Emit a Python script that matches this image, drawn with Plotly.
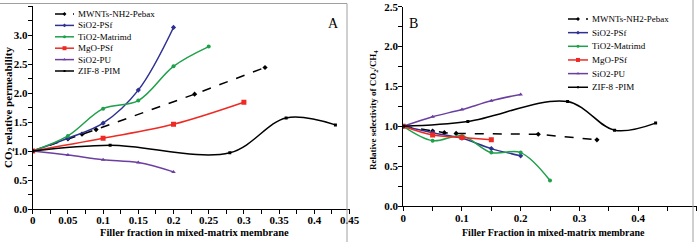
import plotly.graph_objects as go

# ---------------- data ----------------
series_names = ["MWNTs-NH2-Pebax", "SiO2-PSf", "TiO2-Matrimd", "MgO-PSf", "SiO2-PU", "ZIF-8 -PIM"]

mwnt_x = [0, 0.05, 0.07, 0.09, 0.23, 0.33]
mwnt_A = [1.0, 1.21, 1.29, 1.37, 1.98, 2.44]
mwnt_B = [1.0, 0.94, 0.92, 0.91, 0.90, 0.83]

sio2psf_x = [0, 0.05, 0.1, 0.15, 0.2]
sio2psf_A = [1.0, 1.22, 1.48, 2.05, 3.13]
sio2psf_B = [1.0, 0.92, 0.85, 0.72, 0.63]

tio2_x = [0, 0.05, 0.1, 0.15, 0.2, 0.25]
tio2_A = [1.0, 1.26, 1.73, 1.87, 2.46, 2.80]
tio2_B = [1.0, 0.82, 0.88, 0.67, 0.67, 0.32]

mgo_xA = [0, 0.1, 0.2, 0.3]
mgo_A = [1.0, 1.22, 1.46, 1.84]
mgo_xB = [0, 0.05, 0.1, 0.15]
mgo_B = [1.0, 0.89, 0.86, 0.83]

sio2pu_x = [0, 0.05, 0.1, 0.15, 0.2]
sio2pu_A = [1.0, 0.93, 0.85, 0.80, 0.64]
sio2pu_B = [1.0, 1.12, 1.21, 1.32, 1.40]

zif_x = [0, 0.11, 0.28, 0.36, 0.43]
zif_A = [1.0, 1.10, 0.97, 1.57, 1.45]
zif_B = [1.0, 1.06, 1.31, 0.95, 1.04]

xticksA = [0, 0.05, 0.1, 0.15, 0.2, 0.25, 0.3, 0.35, 0.4, 0.45]
xticksA_text = ["0", "0.05", "0.1", "0.15", "0.2", "0.25", "0.3", "0.35", "0.4", "0.45"]
yticksA = [0, 0.5, 1.0, 1.5, 2.0, 2.5, 3.0, 3.5]
yticksA_text = ["0.0", "0.5", "1.0", "1.5", "2.0", "2.5", "3.0", "3.5"]
xticksB = [0, 0.1, 0.2, 0.3, 0.4, 0.5]
xticksB_text = ["0", "0.1", "0.2", "0.3", "0.4", "0.5"]
yticksB = [0, 0.5, 1.0, 1.5, 2.0, 2.5]
yticksB_text = ["0.0", "0.5", "1.0", "1.5", "2.0", "2.5"]

# ---------------- styles ----------------
colors = ["#000000", "#2E3192", "#1FA04A", "#EE2A24", "#6B3FA0", "#000000"]
symbols = ["diamond", "diamond", "circle", "square", "triangle-up", "square"]
msizes = [4, 4, 4, 5, 4, 3]
dashes = ["dash", "solid", "solid", "solid", "solid", "solid"]
shapes_line = ["linear", "spline", "spline", "spline", "spline", "spline"]

W, H = 700, 242
def px(v):
    return v / W
def py(v):
    return 1 - v / H

fig = go.Figure()

dataA = [(mwnt_x, mwnt_A), (sio2psf_x, sio2psf_A), (tio2_x, tio2_A),
         (mgo_xA, mgo_A), (sio2pu_x, sio2pu_A), (zif_x, zif_A)]
dataB = [(mwnt_x, mwnt_B), (sio2psf_x, sio2psf_B), (tio2_x, tio2_B),
         (mgo_xB, mgo_B), (sio2pu_x, sio2pu_B), (zif_x, zif_B)]

for i, (xs, ys) in enumerate(dataA):
    fig.add_trace(go.Scatter(x=xs, y=ys, mode="lines+markers", name=series_names[i],
                             line=dict(color=colors[i], width=1.5, dash=dashes[i], shape=shapes_line[i]),
                             marker=dict(symbol=symbols[i], size=msizes[i], color=colors[i]),
                             xaxis="x", yaxis="y", showlegend=False))
for i, (xs, ys) in enumerate(dataB):
    fig.add_trace(go.Scatter(x=xs, y=ys, mode="lines+markers", name=series_names[i],
                             line=dict(color=colors[i], width=1.5, dash=dashes[i], shape=shapes_line[i]),
                             marker=dict(symbol=symbols[i], size=msizes[i], color=colors[i]),
                             xaxis="x2", yaxis="y2", showlegend=False))

# ---------------- manual legends (pixel helper axis) ----------------
legA = dict(x0=55, x1=74, tx=76, y0=14, dy=11.4)
legB = dict(x0=568, x1=588, tx=590, y0=19, dy=13.65)
annotations = []
for leg in (legA, legB):
    for i, name in enumerate(series_names):
        yy = leg["y0"] + i * leg["dy"]
        fig.add_trace(go.Scatter(x=[leg["x0"], leg["x1"]], y=[yy, yy], mode="lines",
                                 line=dict(color=colors[i], width=1.5, dash="dash" if dashes[i] == "dash" else "solid"),
                                 xaxis="x3", yaxis="y3", showlegend=False, hoverinfo="skip"))
        fig.add_trace(go.Scatter(x=[(leg["x0"] + leg["x1"]) / 2], y=[yy], mode="markers",
                                 marker=dict(symbol=symbols[i], size=msizes[i] - 1, color=colors[i]),
                                 xaxis="x3", yaxis="y3", showlegend=False, hoverinfo="skip"))
        annotations.append(dict(x=leg["tx"], y=yy, xref="x3", yref="y3", text=name,
                                showarrow=False, xanchor="left", yanchor="middle",
                                font=dict(family="Liberation Serif", size=9, color="#000")))

def label(x, y, text, size, bold=True, angle=0, xanchor="center"):
    return dict(x=px(x), y=py(y), xref="paper", yref="paper",
                text=("<b>%s</b>" % text) if bold else text, showarrow=False,
                xanchor=xanchor, yanchor="middle", textangle=angle,
                font=dict(family="Liberation Serif", size=size, color="#000"))

annotations += [
    label(333, 23, "A", 14, bold=False),
    label(413, 23, "B", 14, bold=False),
    label(194, 232, "Filler fraction in mixed-matrix membrane", 10.5),
    label(553, 232, "Filler Fraction in mixed-matrix membrane", 10),
    label(9, 108, "CO<sub>2</sub> relative permeability", 11, angle=-90),
    label(373, 110, "Relative selectivity of CO<sub>2</sub>/CH<sub>4</sub>", 9, angle=-90),
]

tickfont = dict(family="Liberation Serif", size=11, color="#000")

def axis(domain, rng, anchor, tickvals, ticktext, minor_dtick, standoff):
    return dict(domain=domain, range=rng, anchor=anchor, automargin=False,
                tickmode="array", tickvals=tickvals, ticktext=["<b>%s</b>" % t for t in ticktext],
                showline=True, linecolor="#000", linewidth=1, ticks="outside", ticklen=4,
                tickcolor="#000", showgrid=False, zeroline=False, tickfont=tickfont,
                ticklabelstandoff=standoff,
                minor=dict(dtick=minor_dtick, tick0=0, ticks="outside", ticklen=4, tickcolor="#000", showgrid=False))

fig.update_layout(
    width=W, height=H, margin=dict(l=0, r=0, t=0, b=0, autoexpand=False),
    paper_bgcolor="white", plot_bgcolor="rgba(0,0,0,0)", showlegend=False,
    xaxis=axis([px(32.7), px(349.5)], [0, 0.45], "y", xticksA, xticksA_text, 0.025, -3),
    yaxis=axis([py(209), py(6)], [0, 3.5], "x", yticksA, yticksA_text, 0.25, -2),
    xaxis2=axis([px(403.3), px(696.7)], [0, 0.5], "y2", xticksB, xticksB_text, 0.05, -2),
    yaxis2=axis([py(206), py(6.7)], [0, 2.5], "x2", yticksB, yticksB_text, 0.25, -2),
    xaxis3=dict(domain=[0, 1], range=[0, W], visible=False, fixedrange=True, anchor="y3", automargin=False),
    yaxis3=dict(domain=[0, 1], range=[H, 0], visible=False, fixedrange=True, anchor="x3", automargin=False),
    annotations=annotations,
    shapes=[
        dict(type="line", xref="paper", yref="paper", x0=0, x1=px(347), y0=py(3.5), y1=py(3.5),
             line=dict(color="#A0A0A0", width=1)),
        dict(type="line", xref="paper", yref="paper", x0=px(347), x1=px(347), y0=0, y1=py(3.5),
             line=dict(color="#A0A0A0", width=1)),
        dict(type="line", xref="paper", yref="paper", x0=px(693), x1=px(693), y0=0, y1=1,
             line=dict(color="#A0A0A0", width=1)),
    ],
)

fig.write_html("out.html", config={"displayModeBar": False},
               post_script="document.body.style.margin='0';document.body.style.overflow='hidden';")
